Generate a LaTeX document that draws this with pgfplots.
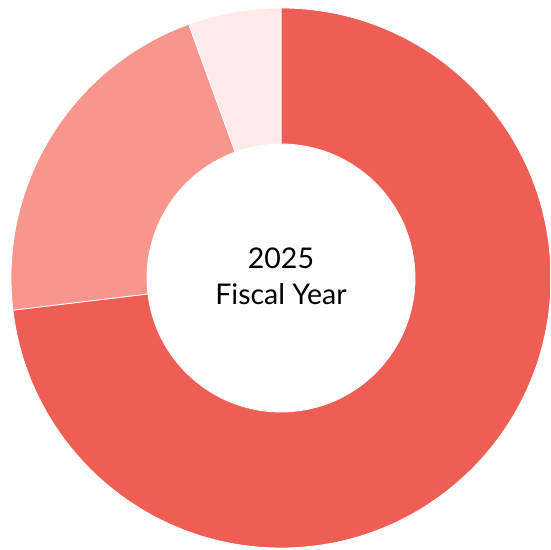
\documentclass[border=0pt]{standalone}
\usepackage{pgfplots}
\pgfplotsset{compat=1.18}
\usepackage{pgfplotstable}
\usepackage{fontspec}
\setmainfont{Lato}

\definecolor{segA}{RGB}{238,94,85}
\definecolor{segB}{RGB}{248,149,140}
\definecolor{segC}{RGB}{254,234,233}

% share in percent, drawn clockwise from 12 o'clock
\pgfplotstableread{
share col
73.1  segA
21.35 segB
5.55  segC
}\donutdata

\begin{document}
\begin{tikzpicture}
\begin{axis}[
  x=270pt, y=270pt,
  xmin=-1.0407, xmax=0.9963,
  ymin=-1.0074, ymax=1.0296,
  axis lines=none,
  clip=true,
  clip bounding box=upper bound,
]
\path (axis cs:-1.0407,-1.0074) rectangle (axis cs:0.9963,1.0296);
\def\astart{90}
\pgfplotsforeachungrouped \i in {0,1,2}{%
  \pgfplotstablegetelem{\i}{share}\of\donutdata
  \let\v\pgfplotsretval
  \pgfplotstablegetelem{\i}{col}\of\donutdata
  \let\c\pgfplotsretval
  \pgfmathsetmacro\aend{\astart-3.6*\v}
  \edef\temp{\noexpand\fill[\c, draw=white, line width=0.8pt, line join=round]
    (axis cs:0,0) ++(\astart:270pt)
    arc[start angle=\astart, end angle=\aend, radius=270pt]
    -- ++(\aend:-136pt)
    arc[start angle=\aend, end angle=\astart, radius=134pt] -- cycle;}
  \temp
  \global\let\astart\aend
}
\node[align=center, font=\fontsize{28.5}{36}\selectfont, text=black]
  at (axis cs:0,0.005) {2025\\Fiscal Year};
\end{axis}
\end{tikzpicture}
\end{document}
